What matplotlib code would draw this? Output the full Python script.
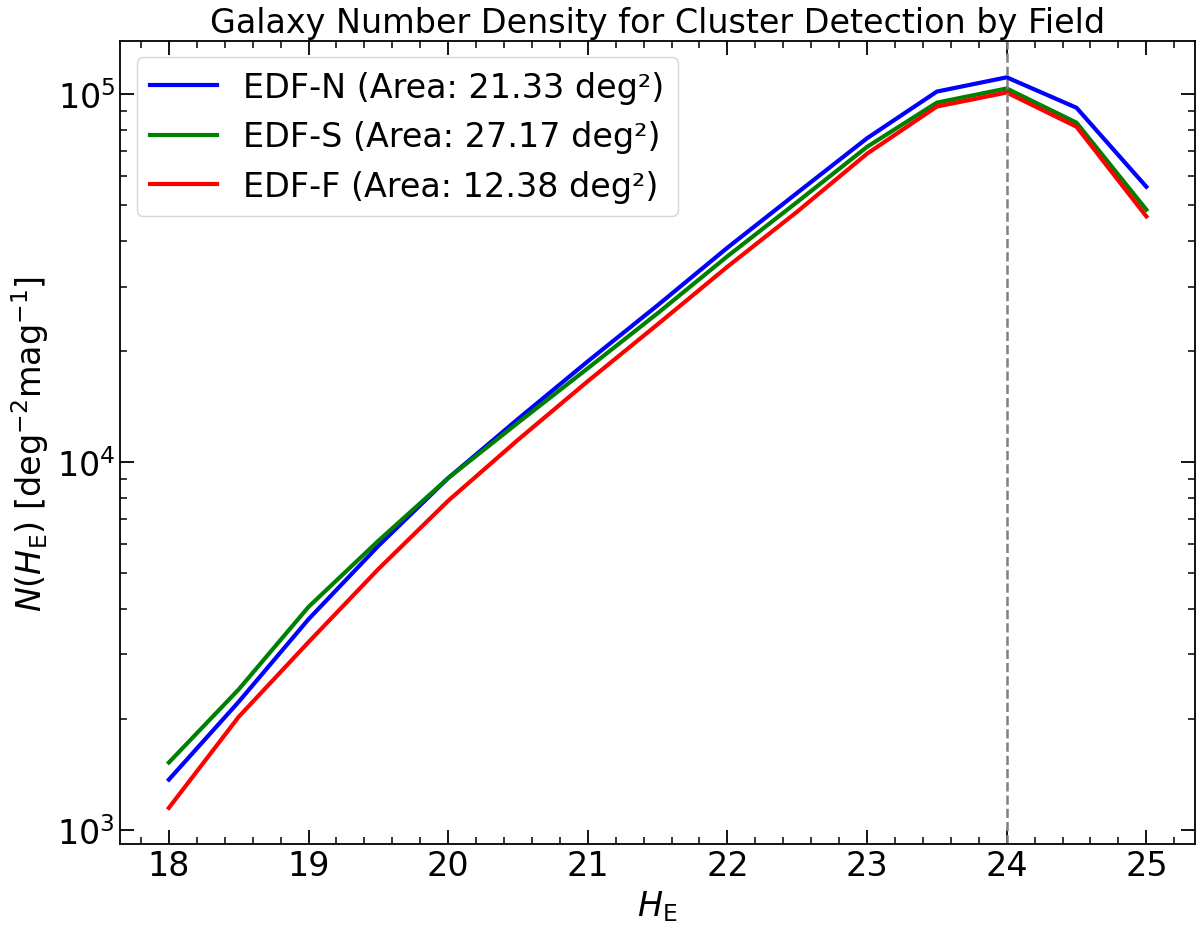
import numpy as np
import matplotlib
matplotlib.use("Agg")
from matplotlib import pyplot as plt
from matplotlib.ticker import AutoMinorLocator

# magnitude bins
mag = [18.0, 18.5, 19.0, 19.5, 20.0, 20.5, 21.0, 21.5, 22.0, 22.5, 23.0, 23.5, 24.0, 24.5, 25.0]

# number densities per field [deg^-2 mag^-1]
n_edfn = [1370, 2230, 3740, 5920, 9050, 13100, 18800, 26700, 38300, 54000, 76000, 101800, 111300, 92000, 56100]
n_edfs = [1525, 2410, 4040, 6110, 9050, 12800, 18000, 25400, 36300, 51000, 72000, 95000, 103800, 83800, 48600]
n_edff = [1148, 2030, 3240, 5120, 7850, 11500, 16600, 23700, 34000, 48000, 69000, 92700, 101200, 81700, 46600]

fields = ['EDF-N', 'EDF-S', 'EDF-F']
areas = [21.33, 27.17, 12.38]
colors = ['blue', 'green', 'red']
mag_limit = 24.0

fig, ax = plt.subplots(figsize=(12, 9.29), dpi=100)
fig.subplots_adjust(left=0.1, right=0.996, bottom=0.09, top=0.955)

for name, area, dens, col in zip(fields, areas, [n_edfn, n_edfs, n_edff], colors):
    ax.plot(mag, dens, color=col, lw=3, label='{} (Area: {:.2f} deg²)'.format(name, area))

ax.axvline(mag_limit, color='gray', ls='--', lw=1.8)

ax.set_yscale('log')
ax.set_xlabel(r'$H_{\rm E}$', fontsize=24)
ax.set_ylabel(r'$N(H_{\rm E})$ [deg$^{-2}$mag$^{-1}$]', fontsize=24)
ax.set_title('Galaxy Number Density for Cluster Detection by Field', fontsize=24)

ax.xaxis.set_minor_locator(AutoMinorLocator(5))
ax.tick_params(which='both', direction='in', top=True, right=True, labelsize=24)
ax.tick_params(which='major', length=10, width=1.3)
ax.tick_params(which='minor', length=5, width=1.1)
for sp in ax.spines.values():
    sp.set_linewidth(1.3)

ax.legend(loc='upper left', fontsize=24)

fig.savefig('out.png')
